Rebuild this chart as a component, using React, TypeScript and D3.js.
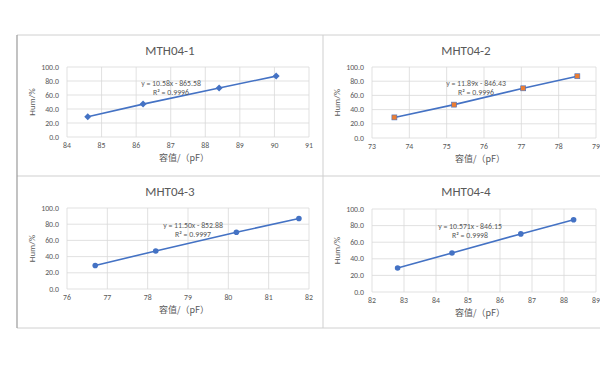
import React from 'react';
import * as d3 from 'd3';

// humidity set points (same for every sensor)
const humidity = [29, 47, 70, 87];

const titles = ['MTH04-1', 'MHT04-2', 'MHT04-3', 'MHT04-4'];
const capacitance1 = [84.6, 86.2, 88.4, 90.05];
const capacitance2 = [73.6, 75.2, 77.05, 78.5];
const capacitance3 = [76.7, 78.2, 80.2, 81.75];
const capacitance4 = [82.8, 84.5, 86.65, 88.3];
const xDomains = [[84, 91], [73, 79], [76, 82], [82, 89]];
const equations = ['y = 10.58x - 865.58', 'y = 11.89x - 846.43', 'y = 11.50x - 852.88', 'y = 10.571x - 846.15'];
const rSquared = ['R² = 0.9996', 'R² = 0.9996', 'R² = 0.9997', 'R² = 0.9998'];
const markers = ['diamond', 'square', 'circle', 'circle'];
const yTicks = [0, 20, 40, 60, 80, 100];

const BLUE = '#4472c4';
const ORANGE = '#ed7d31';
const TEXT = '#595959';
const GRID = '#d9d9d9';
const FONT = 'Carlito, "Open Sans", "Noto Sans", sans-serif';
const CJK = '"Noto Sans CJK SC", sans-serif';

// layout of the four panels
const panels = [
  { left: 67, right: 309, top: 67, bottom: 137, titleY: 55, labelX: 171, labelY: 86 },
  { left: 372, right: 596, top: 67, bottom: 138, titleY: 55, labelX: 476, labelY: 86 },
  { left: 67, right: 309, top: 208, bottom: 289, titleY: 196, labelX: 193, labelY: 228 },
  { left: 372, right: 596, top: 209, bottom: 292, titleY: 196, labelX: 470, labelY: 229 },
];

const seriesList = [capacitance1, capacitance2, capacitance3, capacitance4];

const Panel = ({ i }: { i: number }) => {
  const p = panels[i];
  const xs = seriesList[i];
  const [x0, x1] = xDomains[i];
  const x = d3.scaleLinear().domain([x0, x1]).range([p.left, p.right]);
  const y = d3.scaleLinear().domain([0, 100]).range([p.bottom, p.top]);
  const xTicks = d3.range(x0, x1 + 1);
  const pts = xs.map((v, k) => [x(v), y(humidity[k])] as [number, number]);
  const line = d3.line()(pts) || '';
  const cx = (p.left + p.right) / 2;

  const marker = (pt: [number, number], k: number) => {
    const [mx, my] = pt;
    if (markers[i] === 'diamond') {
      return <path key={k} d={`M${mx},${my - 3.5}L${mx + 3.5},${my}L${mx},${my + 3.5}L${mx - 3.5},${my}Z`} fill={BLUE} />;
    }
    if (markers[i] === 'square') {
      return <rect key={k} x={mx - 2.5} y={my - 2.5} width={5} height={5} fill={ORANGE} stroke={BLUE} strokeWidth={0.6} />;
    }
    return <circle key={k} cx={mx} cy={my} r={2.8} fill={BLUE} />;
  };

  return (
    <g>
      <text x={cx - 18} y={p.titleY} textAnchor="middle" fontSize={13} fill={TEXT} fontFamily={FONT}>{titles[i]}</text>
      {yTicks.map(t => (
        <g key={'y' + t}>
          <line x1={p.left} x2={p.right} y1={y(t)} y2={y(t)} stroke={GRID} strokeWidth={0.8} />
          <text x={p.left - 8} y={y(t) + 2.5} textAnchor="end" fontSize={7.8} fill={TEXT} fontFamily={FONT}>{t.toFixed(1)}</text>
        </g>
      ))}
      {xTicks.map(t => (
        <g key={'x' + t}>
          <line x1={x(t)} x2={x(t)} y1={p.top} y2={p.bottom} stroke={GRID} strokeWidth={0.8} />
          <text x={x(t)} y={p.bottom + 11} textAnchor="middle" fontSize={7.8} fill={TEXT} fontFamily={FONT}>{t}</text>
        </g>
      ))}
      <text transform={`translate(${p.left - 32},${(p.top + p.bottom) / 2}) rotate(-90)`} textAnchor="middle" fontSize={9} fill={TEXT} fontFamily={FONT}>Hum/%</text>
      <text x={cx - 4} y={p.bottom + 24} textAnchor="middle" fontSize={9} fill={TEXT} fontFamily={CJK}>容值/（pF）</text>
      <path d={line} fill="none" stroke={BLUE} strokeWidth={1.6} />
      {pts.map(marker)}
      <text x={p.labelX} y={p.labelY} textAnchor="middle" fontSize={7.8} fill={TEXT} fontFamily={FONT}>{equations[i]}</text>
      <text x={p.labelX} y={p.labelY + 9} textAnchor="middle" fontSize={7.8} fill={TEXT} fontFamily={FONT}>{rSquared[i]}</text>
    </g>
  );
};

export default function App() {
  return (
    <svg width={600} height={371} style={{ position: 'absolute', left: 0, top: 0, background: '#fff' }}>
      <rect width={600} height={371} fill="#fff" />
      {/* panel frames */}
      <line x1={17} x2={600} y1={35} y2={35} stroke="#d0d0d0" strokeWidth={1} />
      <line x1={17} x2={600} y1={176} y2={176} stroke="#cfcfcf" strokeWidth={1} />
      <line x1={17} x2={600} y1={328} y2={328} stroke="#d0d0d0" strokeWidth={1} />
      <line x1={17} x2={17} y1={35} y2={328} stroke="#9a9a9a" strokeWidth={1.2} />
      <line x1={323} x2={323} y1={35} y2={328} stroke="#cfcfcf" strokeWidth={1} />
      {titles.map((_, i) => <Panel key={i} i={i} />)}
    </svg>
  );
}
